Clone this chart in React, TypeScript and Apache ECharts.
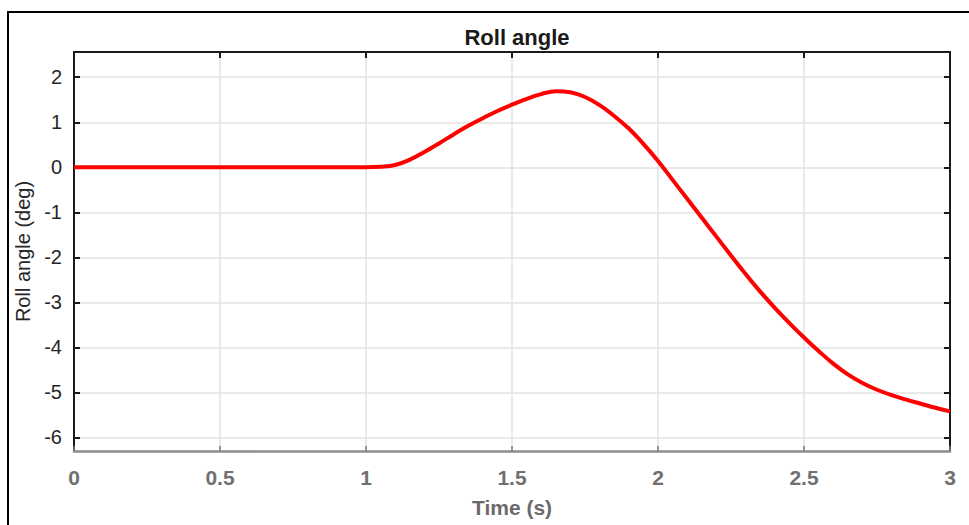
import React, { useEffect, useRef } from "react";
import * as echarts from "echarts";

// Simulation time (s)
const timeS = [
  0, 0.5, 0.8, 0.85, 0.9, 0.95, 1.0, 1.05, 1.1, 1.15, 1.2, 1.25, 1.3, 1.35,
  1.4, 1.45, 1.5, 1.55, 1.6, 1.65, 1.7, 1.75, 1.8, 1.85, 1.9, 1.95, 2.0, 2.05,
  2.1, 2.15, 2.2, 2.25, 2.3, 2.35, 2.4, 2.45, 2.5, 2.55, 2.6, 2.65, 2.7, 2.75,
  2.8, 2.85, 2.9, 2.95, 3.0,
];

// Roll angle (deg)
const rollDeg = [
  0, 0, 0, 0, 0, 0, 0, 0.01, 0.05, 0.17, 0.34, 0.53, 0.73, 0.92, 1.09, 1.25,
  1.39, 1.52, 1.625, 1.69, 1.665, 1.56, 1.38, 1.14, 0.86, 0.52, 0.14, -0.28,
  -0.7, -1.12, -1.54, -1.96, -2.37, -2.76, -3.12, -3.46, -3.78, -4.08, -4.36,
  -4.6, -4.79, -4.94, -5.06, -5.16, -5.25, -5.34, -5.42,
];

const yTicks = [-6, -5, -4, -3, -2, -1, 0, 1, 2];
const X_MIN = 0;
const X_MAX = 3;
const X_STEP = 0.5;
const Y_MIN = -6.3;
const Y_MAX = 2.56;

const FONT = "Liberation Sans, Arial, sans-serif";

export default function App() {
  const ref = useRef<HTMLDivElement>(null);

  useEffect(() => {
    if (!ref.current) return;
    const chart = echarts.init(ref.current, undefined, { renderer: "svg" });

    const gridLine = { show: true, lineStyle: { color: "#e2e2e2", width: 1.5 } };
    const boxLine = { show: true, onZero: false, lineStyle: { color: "#1a1a1a", width: 2 } };
    const boxTick = { show: true, inside: true, length: 6, lineStyle: { color: "#1a1a1a", width: 2 } };

    chart.setOption({
      animation: false,
      backgroundColor: "#ffffff",
      title: {
        text: "Roll angle",
        left: 512,
        top: 21,
        textAlign: "center",
        textStyle: {
          fontFamily: FONT,
          fontSize: 22,
          fontWeight: "bold",
          color: "#1a1a1a",
        },
      },
      grid: {
        left: 74,
        right: 19,
        top: 52,
        bottom: 74,
        containLabel: false,
        outerBoundsMode: "none",
      },
      xAxis: [
        {
          type: "value",
          position: "bottom",
          min: X_MIN,
          max: X_MAX,
          interval: X_STEP,
          name: "Time (s)",
          nameLocation: "middle",
          nameGap: 46,
          nameTextStyle: {
            fontFamily: FONT,
            fontSize: 21,
            fontWeight: "bold",
            color: "#6a6a6a",
          },
          axisLine: { show: true, onZero: false, lineStyle: { color: "#8c8c8c", width: 2.5 } },
          axisTick: { show: true, inside: true, length: 5, lineStyle: { color: "#777", width: 1.5 } },
          axisLabel: {
            margin: 16,
            fontFamily: FONT,
            fontSize: 21,
            fontWeight: "bold",
            color: "#707070",
          },
          splitLine: gridLine,
        },
        {
          type: "value",
          position: "top",
          min: X_MIN,
          max: X_MAX,
          interval: X_STEP,
          axisLine: boxLine,
          axisTick: boxTick,
          axisLabel: { show: false },
          splitLine: { show: false },
        },
      ],
      yAxis: [
        {
          type: "value",
          position: "left",
          min: Y_MIN,
          max: Y_MAX,
          name: "Roll angle (deg)",
          nameLocation: "middle",
          nameGap: 40,
          nameTextStyle: {
            fontFamily: FONT,
            fontSize: 20,
            color: "#262626",
          },
          axisLine: boxLine,
          axisTick: { ...boxTick, customValues: yTicks },
          axisLabel: {
            customValues: yTicks,
            margin: 12,
            fontFamily: FONT,
            fontSize: 20,
            color: "#262626",
          },
          splitLine: gridLine,
        },
        {
          type: "value",
          position: "right",
          min: Y_MIN,
          max: Y_MAX,
          axisLine: boxLine,
          axisTick: { ...boxTick, customValues: yTicks },
          axisLabel: { show: false },
          splitLine: { show: false },
        },
      ],
      series: [
        {
          type: "line",
          xAxisIndex: 0,
          yAxisIndex: 0,
          data: timeS.map((t, i) => [t, rollDeg[i]]),
          smooth: 0.4,
          showSymbol: false,
          symbol: "none",
          lineStyle: { color: "#ff0000", width: 4 },
          z: 5,
        },
      ],
      graphic: [
        {
          type: "polyline",
          shape: { points: [[8, 525], [8, 12], [969, 12]] },
          style: { stroke: "#000000", lineWidth: 2, fill: "none" },
          z: 10,
        },
      ],
    });

    return () => chart.dispose();
  }, []);

  return (
    <div
      ref={ref}
      style={{ position: "absolute", left: 0, top: 0, width: 969, height: 525 }}
    />
  );
}
